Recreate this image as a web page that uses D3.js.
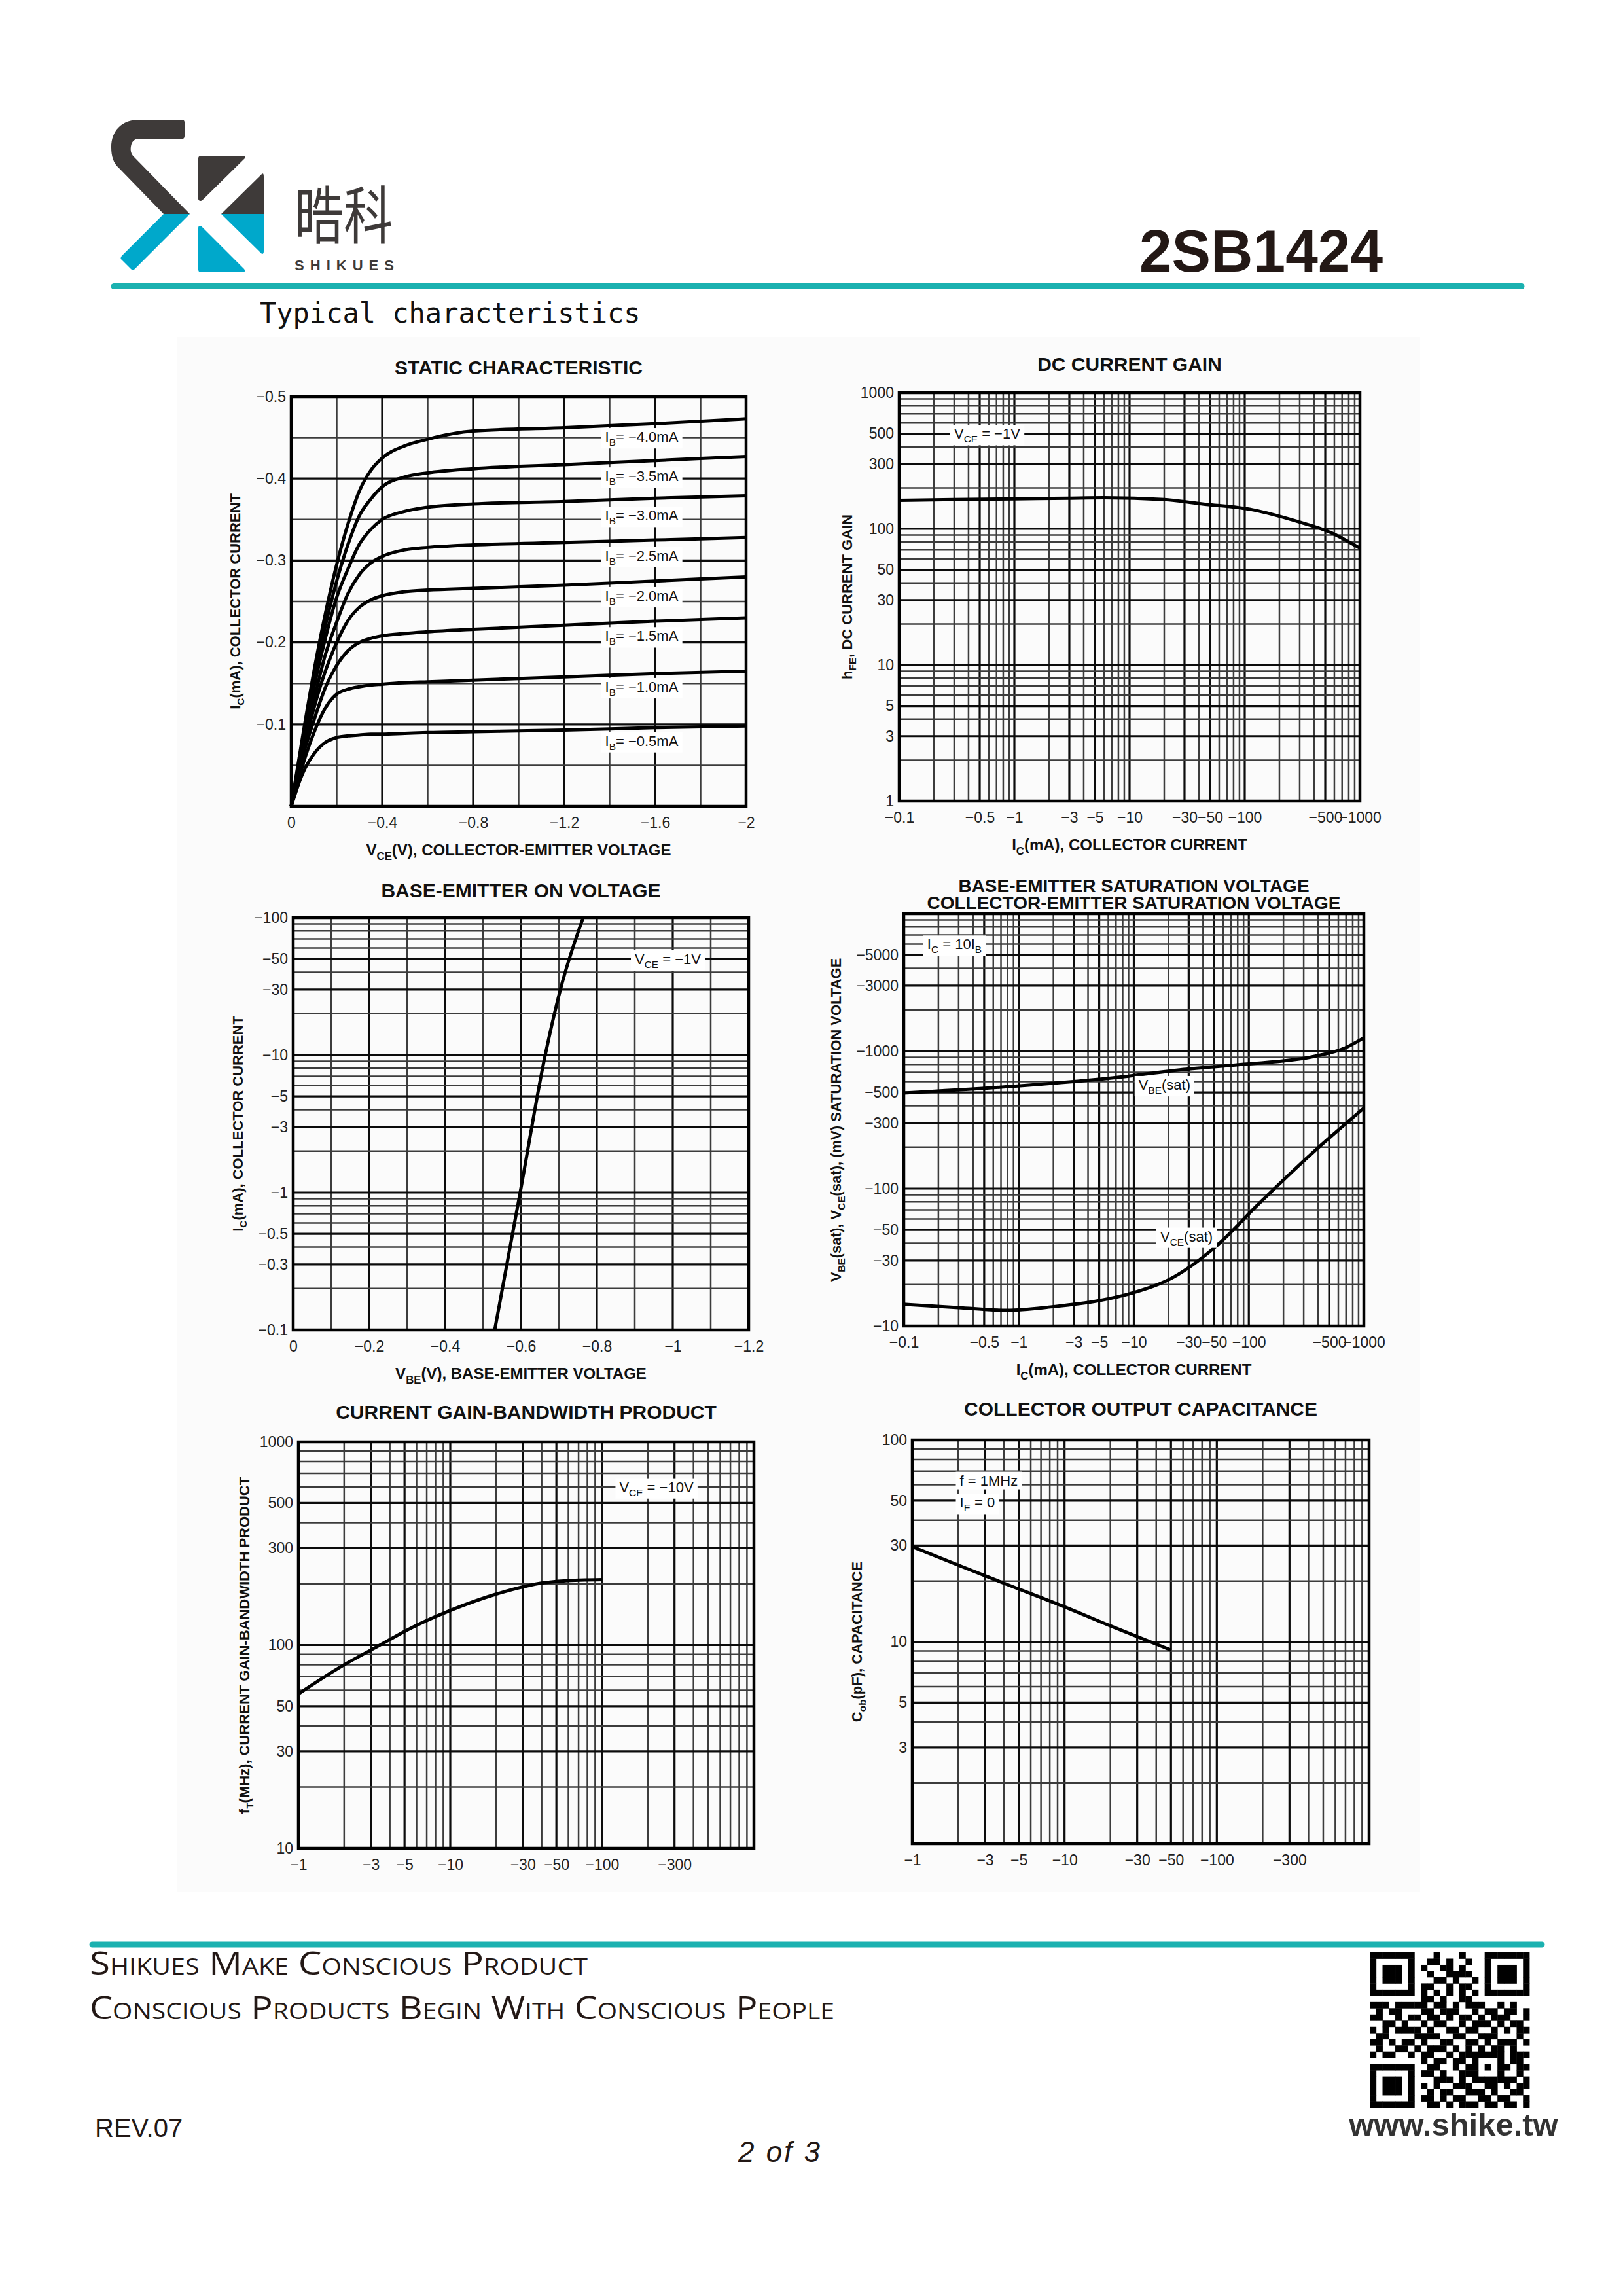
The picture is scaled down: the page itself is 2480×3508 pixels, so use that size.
<!DOCTYPE html>
<html>
<head>
<meta charset="utf-8">
<script src="https://cdn.jsdelivr.net/npm/d3@7"></script>
<style>
  body { margin: 0; background: #fff; }
  svg { display: block; }
</style>
</head>
<body>
<svg id="page" width="2480" height="3508"></svg>
<script>
// ---------- data ----------

// static characteristic: Vce (V) vs Ic, one curve per base current
const staticVce = [0, -0.05, -0.1, -0.15, -0.2, -0.25, -0.3, -0.35, -0.4, -0.5, -0.6, -0.8, -1.2, -1.6, -2.0];
const ic_ib40 = [0, -0.085, -0.165, -0.235, -0.295, -0.345, -0.385, -0.41, -0.425, -0.44, -0.448, -0.458, -0.462, -0.467, -0.473];
const ic_ib35 = [0, -0.08, -0.155, -0.22, -0.275, -0.32, -0.355, -0.375, -0.39, -0.402, -0.407, -0.412, -0.417, -0.422, -0.427];
const ic_ib30 = [0, -0.075, -0.145, -0.205, -0.255, -0.29, -0.32, -0.338, -0.35, -0.36, -0.365, -0.369, -0.372, -0.376, -0.379];
const ic_ib25 = [0, -0.07, -0.13, -0.185, -0.225, -0.26, -0.283, -0.297, -0.305, -0.313, -0.316, -0.319, -0.322, -0.325, -0.328];
const ic_ib20 = [0, -0.065, -0.12, -0.165, -0.2, -0.227, -0.243, -0.252, -0.257, -0.262, -0.264, -0.266, -0.27, -0.275, -0.28];
const ic_ib15 = [0, -0.06, -0.105, -0.145, -0.172, -0.19, -0.2, -0.205, -0.208, -0.211, -0.213, -0.216, -0.221, -0.226, -0.23];
const ic_ib10 = [0, -0.05, -0.09, -0.12, -0.137, -0.143, -0.146, -0.148, -0.149, -0.151, -0.152, -0.154, -0.158, -0.162, -0.165];
const ic_ib05 = [0, -0.04, -0.064, -0.078, -0.084, -0.086, -0.087, -0.088, -0.088, -0.089, -0.09, -0.091, -0.093, -0.096, -0.098];
const ibNames = ["−4.0mA", "−3.5mA", "−3.0mA", "−2.5mA", "−2.0mA", "−1.5mA", "−1.0mA", "−0.5mA"];
const ibLabelIc = [-0.451, -0.403, -0.355, -0.306, -0.257, -0.208, -0.146, -0.080];
const staticXTicks = [0, -0.4, -0.8, -1.2, -1.6, -2];
const staticYTicks = [-0.5, -0.4, -0.3, -0.2, -0.1];

// DC current gain (|Ic| mA, hFE), Vce = -1V
const gainIc = [0.1, 0.3, 1, 3, 6, 20, 44, 117, 290, 525, 1000];
const gainHfe = [162, 164, 166, 168, 169, 164, 152, 138, 113, 96, 72];
const gainXTicks = [0.1, 0.5, 1, 3, 5, 10, 30, 50, 100, 500, 1000];
const gainYTicks = [1000, 500, 300, 100, 50, 30, 10, 5, 3, 1];

// base-emitter on voltage (Vbe V, |Ic| mA)
const beVbe = [-0.531, -0.598, -0.664, -0.704, -0.764];
const beIc = [0.1, 1, 10, 30, 100];
const beXTicks = [0, -0.2, -0.4, -0.6, -0.8, -1, -1.2];
const beYTicks = [100, 50, 30, 10, 5, 3, 1, 0.5, 0.3, 0.1];

// saturation voltages (|Ic| mA, |V| mV), Ic = 10 Ib
const vbeSatIc = [0.1, 0.9, 8.8, 27, 84, 378, 690, 1000];
const vbeSat = [496, 555, 656, 735, 798, 918, 1057, 1250];
const vceSatIc = [0.1, 0.3, 0.79, 1.95, 4.8, 10, 22, 50, 123, 353, 1000];
const vceSat = [14.4, 13.6, 13, 13.8, 15.2, 17.5, 22.6, 37, 78, 180, 385];
const satYTicks = [5000, 3000, 1000, 500, 300, 100, 50, 30, 10];

// current gain-bandwidth product (|Ic| mA, fT MHz), Vce = -10V
const ftIc = [1, 2, 3.2, 5.6, 10, 20, 42, 56, 100];
const ftMHz = [57.5, 80, 97, 122, 148, 178, 203, 207, 210];
const ftXTicks = [1, 3, 5, 10, 30, 50, 100, 300];
const ftYTicks = [1000, 500, 300, 100, 50, 30, 10];

// collector output capacitance (|Vcb| V, Cob pF)
const cobVcb = [1, 2, 4, 10, 20, 50];
const cobPf = [29.6, 24.0, 19.5, 14.9, 12.0, 9.1];
const cobXTicks = [1, 3, 5, 10, 30, 50, 100, 300];
const cobYTicks = [100, 50, 30, 10, 5, 3];

// ---------- page ----------
const SANS = "'Liberation Sans', Arial, Helvetica, sans-serif";
const svg = d3.select("#page");
svg.append("rect").attr("width", 2480).attr("height", 3508).attr("fill", "#fff");
svg.append("rect").attr("x", 270).attr("y", 515).attr("width", 1900).attr("height", 2375).attr("fill", "#fbfbfb");

// text with subscripts: parts are strings or [subscript]
function richText(g, x, y, parts, fs, attrs) {
  const t = g.append("text").attr("x", x).attr("y", y).attr("font-size", fs).attr("font-family", SANS);
  Object.entries(attrs || {}).forEach(([k, v]) => t.attr(k, v));
  let down = false;
  parts.forEach(p => {
    const sub = Array.isArray(p);
    const s = t.append("tspan").text(sub ? p[0] : p);
    if (sub) { s.attr("font-size", fs * 0.7).attr("dy", fs * 0.28); down = true; }
    else if (down) { s.attr("dy", -fs * 0.28); down = false; }
  });
  return t;
}

// label with white box behind it
function note(g, x, y, parts, fs) {
  const t = richText(g, x, y + fs * 0.35, parts, fs, { fill: "#111" });
  const bb = t.node().getBBox();
  g.insert("rect", () => t.node())
    .attr("x", bb.x - 6).attr("y", bb.y - 1).attr("width", bb.width + 12).attr("height", bb.height + 2)
    .attr("fill", "#fff");
}

const near = (arr, d) => arr.some(t => Math.abs(t - d) <= 1e-9 * Math.max(1, Math.abs(t)));
const negFmt = v => v === 0 ? "0" : "−" + d3.format("~g")(Math.abs(v));

function drawPanel(c) {
  const g = svg.append("g");
  const { x, y } = c;
  const xGrid = x.ticks(c.xCount || 10), yGrid = y.ticks(c.yCount || 10);

  g.selectAll(null).data(xGrid).join("line")
    .attr("x1", d => x(d)).attr("x2", d => x(d)).attr("y1", c.T).attr("y2", c.B)
    .attr("stroke", d => near(c.xTicks, d) ? "#0c0c0c" : "#3c3c3c")
    .attr("stroke-width", d => near(c.xTicks, d) ? 3.2 : 2.5);
  g.selectAll(null).data(yGrid).join("line")
    .attr("y1", d => y(d)).attr("y2", d => y(d)).attr("x1", c.L).attr("x2", c.R)
    .attr("stroke", d => near(c.yTicks, d) ? "#0c0c0c" : "#3c3c3c")
    .attr("stroke-width", d => near(c.yTicks, d) ? 3.2 : 2.5);

  g.append("rect").attr("x", c.L).attr("y", c.T).attr("width", c.R - c.L).attr("height", c.B - c.T)
    .attr("fill", "none").attr("stroke", "#000").attr("stroke-width", 4.5);

  const ax = g.append("g").attr("transform", `translate(0,${c.B})`)
    .call(d3.axisBottom(x).tickValues(c.xTicks).tickSize(0).tickPadding(17).tickFormat(c.fx));
  const ay = g.append("g").attr("transform", `translate(${c.L},0)`)
    .call(d3.axisLeft(y).tickValues(c.yTicks).tickSize(0).tickPadding(8).tickFormat(c.fy));
  [ax, ay].forEach(a => {
    a.select(".domain").remove();
    a.attr("font-size", 23).attr("font-family", SANS);
    a.selectAll("text").attr("fill", "#222");
  });

  const cx = (c.L + c.R) / 2;
  c.title.forEach((line, i) => {
    g.append("text").attr("x", cx).attr("y", c.T - c.titleGap + i * 26)
      .attr("text-anchor", "middle").attr("font-family", SANS).attr("font-weight", "bold")
      .attr("font-size", c.title.length > 1 ? 28 : 30).attr("fill", "#111").text(line);
  });
  if (c.xTitle) {
    richText(g, cx, c.B + 75, c.xTitle, 24, { "text-anchor": "middle", "font-weight": "bold", fill: "#111" });
  }
  const yc = (c.T + c.B) / 2;
  richText(g, 0, 0, c.yTitle, 22, {
    "text-anchor": "middle", "font-weight": "bold", fill: "#111",
    transform: `translate(${c.L - c.yTitleOff},${yc}) rotate(-90)`
  });
  return g;
}

function curve(g, x, y, xs, ys) {
  const line = d3.line().x(d => x(d[0])).y(d => y(d[1])).curve(d3.curveMonotoneX);
  g.append("path").datum(d3.zip(xs, ys)).attr("d", line)
    .attr("fill", "none").attr("stroke", "#000").attr("stroke-width", 5).attr("stroke-linejoin", "round");
}

// ---------- 1. static characteristic ----------
{
  const L = 445, R = 1140, T = 606, B = 1232;
  const x = d3.scaleLinear().domain([0, -2]).range([L, R]);
  const y = d3.scaleLinear().domain([0, -0.5]).range([B, T]);
  const g = drawPanel({ L, R, T, B, x, y, xTicks: staticXTicks, yTicks: staticYTicks, fx: negFmt, fy: negFmt,
    title: ["STATIC CHARACTERISTIC"], titleGap: 34, yTitleOff: 78,
    xTitle: ["V", ["CE"], "(V), COLLECTOR-EMITTER VOLTAGE"], yTitle: ["I", ["C"], "(mA), COLLECTOR CURRENT"] });
  [ic_ib40, ic_ib35, ic_ib30, ic_ib25, ic_ib20, ic_ib15, ic_ib10, ic_ib05].forEach(ic => curve(g, x, y, staticVce, ic));
  ibNames.forEach((n, i) => note(g, x(-1.38), y(ibLabelIc[i]), ["I", ["B"], "= " + n], 22));
}

// ---------- 2. DC current gain ----------
{
  const L = 1374, R = 2078, T = 600, B = 1224;
  const x = d3.scaleLog().domain([0.1, 1000]).range([L, R]);
  const y = d3.scaleLog().domain([1, 1000]).range([B, T]);
  const g = drawPanel({ L, R, T, B, x, y, xTicks: gainXTicks, yTicks: gainYTicks, fx: negFmt, fy: d => String(d),
    title: ["DC CURRENT GAIN"], titleGap: 33, yTitleOff: 72,
    xTitle: ["I", ["C"], "(mA), COLLECTOR CURRENT"], yTitle: ["h", ["FE"], ", DC CURRENT GAIN"] });
  curve(g, x, y, gainIc, gainHfe);
  note(g, x(0.3), y(500), ["V", ["CE"], " = −1V"], 22);
}

// ---------- 3. base-emitter on voltage ----------
{
  const L = 448, R = 1144, T = 1402, B = 2032;
  const x = d3.scaleLinear().domain([0, -1.2]).range([L, R]);
  const y = d3.scaleLog().domain([0.1, 100]).range([B, T]);
  const g = drawPanel({ L, R, T, B, x, y, xCount: 12, xTicks: beXTicks, yTicks: beYTicks, fx: negFmt, fy: negFmt,
    title: ["BASE-EMITTER ON VOLTAGE"], titleGap: 31, yTitleOff: 77,
    xTitle: ["V", ["BE"], "(V), BASE-EMITTER VOLTAGE"], yTitle: ["I", ["C"], "(mA), COLLECTOR CURRENT"] });
  curve(g, x, y, beVbe, beIc);
  note(g, x(-0.9), y(50), ["V", ["CE"], " = −1V"], 22);
}

// ---------- 4. saturation voltages ----------
{
  const L = 1381, R = 2084, T = 1396, B = 2026;
  const x = d3.scaleLog().domain([0.1, 1000]).range([L, R]);
  const y = d3.scaleLog().domain([10, 10000]).range([B, T]);
  const g = drawPanel({ L, R, T, B, x, y, xTicks: gainXTicks, yTicks: satYTicks, fx: negFmt, fy: negFmt,
    title: ["BASE-EMITTER SATURATION VOLTAGE", "COLLECTOR-EMITTER SATURATION VOLTAGE"], titleGap: 33, yTitleOff: 96,
    xTitle: ["I", ["C"], "(mA), COLLECTOR CURRENT"],
    yTitle: ["V", ["BE"], "(sat), V", ["CE"], "(sat), (mV) SATURATION VOLTAGE"] });
  curve(g, x, y, vbeSatIc, vbeSat);
  curve(g, x, y, vceSatIc, vceSat);
  note(g, x(0.16), y(6000), ["I", ["C"], " = 10I", ["B"]], 22);
  note(g, x(11), y(570), ["V", ["BE"], "(sat)"], 22);
  note(g, x(17), y(45), ["V", ["CE"], "(sat)"], 22);
}

// ---------- 5. current gain-bandwidth product ----------
{
  const L = 456, R = 1152, T = 2203, B = 2824;
  const x = d3.scaleLog().domain([1, 1000]).range([L, R]);
  const y = d3.scaleLog().domain([10, 1000]).range([B, T]);
  const g = drawPanel({ L, R, T, B, x, y, xTicks: ftXTicks, yTicks: ftYTicks, fx: negFmt, fy: d => String(d),
    title: ["CURRENT GAIN-BANDWIDTH PRODUCT"], titleGap: 35, yTitleOff: 75,
    xTitle: null, yTitle: ["f", ["T"], "(MHz), CURRENT GAIN-BANDWIDTH PRODUCT"] });
  curve(g, x, y, ftIc, ftMHz);
  note(g, x(130), y(600), ["V", ["CE"], " = −10V"], 22);
}

// ---------- 6. collector output capacitance ----------
{
  const L = 1394, R = 2092, T = 2200, B = 2817;
  const x = d3.scaleLog().domain([1, 1000]).range([L, R]);
  const y = d3.scaleLog().domain([1, 100]).range([B, T]);
  const g = drawPanel({ L, R, T, B, x, y, xTicks: cobXTicks, yTicks: cobYTicks, fx: negFmt, fy: d => String(d),
    title: ["COLLECTOR OUTPUT CAPACITANCE"], titleGap: 37, yTitleOff: 77,
    xTitle: null, yTitle: ["C", ["ob"], "(pF), CAPACITANCE"] });
  curve(g, x, y, cobVcb, cobPf);
  note(g, x(2.05), y(63), ["f = 1MHz"], 22);
  note(g, x(2.05), y(49), ["I", ["E"], " = 0"], 22);
}

// ---------- header ----------
const DARK = "#3e3a39", BLUE = "#00a8cb", TEAL = "#1bb1b0";
const logo = svg.append("g");
logo.append("path").attr("fill", DARK)
  .attr("d", "M278,183 L212,183 C186,183 170,200 170,225 C170,240 174,250 182,257 L250,327 L290,327 L205,240 C200,235 199,230 200,224 C201,216 206,212 212,212 L279,212 C281,212 282,210 282,208 L282,187 C282,185 281,183 278,183 Z");
logo.append("path").attr("fill", BLUE).attr("d", "M250,327 L290,327 L206,411 C204,413 202,413 200,411 L186,397 C184,395 184,394 186,391 Z");
logo.append("path").attr("fill", DARK).attr("d", "M303,242 C303,239 305,238 307,238 L372,238 C375,238 376,240 374,242 L309,306 C307,308 303,307 303,304 Z");
logo.append("path").attr("fill", DARK).attr("d", "M403,270 L403,327 L338,327 L400,266 C402,264 403,266 403,270 Z");
logo.append("path").attr("fill", BLUE).attr("d", "M338,327 L403,327 L403,384 C403,388 401,389 399,387 Z");
logo.append("path").attr("fill", BLUE).attr("d", "M303,348 C303,345 306,344 308,346 L373,411 C375,414 374,416 371,416 L307,416 C305,416 303,415 303,412 Z");
logo.append("text").attr("x", 450).attr("y", 364).attr("font-family", "'Noto Sans CJK SC', 'Noto Sans CJK TC', sans-serif")
  .attr("font-size", 96).attr("fill", DARK).attr("textLength", 150).attr("lengthAdjust", "spacingAndGlyphs").text("晧科");
logo.append("text").attr("x", 450).attr("y", 413).attr("font-family", SANS).attr("font-weight", "bold")
  .attr("font-size", 22).attr("fill", DARK).attr("textLength", 152).attr("lengthAdjust", "spacing").text("SHIKUES");

svg.append("text").attr("x", 1741).attr("y", 415).attr("font-family", SANS).attr("font-weight", "bold")
  .attr("font-size", 90).attr("fill", "#231815").attr("textLength", 372).attr("lengthAdjust", "spacingAndGlyphs").text("2SB1424");
svg.append("line").attr("x1", 174).attr("x2", 2325).attr("y1", 437.5).attr("y2", 437.5)
  .attr("stroke", TEAL).attr("stroke-width", 9).attr("stroke-linecap", "round");
svg.append("text").attr("x", 397).attr("y", 493).attr("font-family", "'DejaVu Sans Mono', 'Liberation Mono', monospace")
  .attr("font-size", 42).attr("fill", "#111").text("Typical characteristics");

// ---------- footer ----------
svg.append("line").attr("x1", 141).attr("x2", 2356).attr("y1", 2971).attr("y2", 2971)
  .attr("stroke", TEAL).attr("stroke-width", 9).attr("stroke-linecap", "round");
const footLines = ["Shikues Make Conscious Product", "Conscious Products Begin With Conscious People"];
const footY = [3017, 3085], footLen = [761, 1138];
footLines.forEach((s, i) => {
  svg.append("text").attr("x", 137).attr("y", footY[i]).attr("font-family", "'Open Sans', sans-serif")
    .attr("font-variant", "small-caps").attr("font-size", 50).attr("fill", "#231815")
    .attr("textLength", footLen[i]).attr("lengthAdjust", "spacingAndGlyphs").text(s);
});
svg.append("text").attr("x", 145).attr("y", 3265).attr("font-family", "'Liberation Sans Narrow', " + SANS)
  .attr("font-size", 40).attr("fill", "#231815").text("REV.07");
svg.append("text").attr("x", 1192).attr("y", 3303).attr("text-anchor", "middle").attr("font-family", SANS)
  .attr("font-style", "italic").attr("font-size", 44).attr("letter-spacing", 3).attr("fill", "#231815").text("2 of 3");
svg.append("text").attr("x", 2221).attr("y", 3263).attr("text-anchor", "middle").attr("font-family", SANS)
  .attr("font-weight", "bold").attr("font-size", 49).attr("fill", "#333").text("www.shike.tw");

// QR code modules
const qrRows = [
  "1111111000100010001111111",
  "1000001001101001001000001",
  "1011101010011010001011101",
  "1011101001001111001011101",
  "1011101000110100101011101",
  "1000001011001011001000001",
  "1111111010101010101111111",
  "0000000011010011000000000",
  "1110111110110101110010100",
  "0101100011011100101101101",
  "1100101101101011010111001",
  "0011010010110010111010110",
  "1010111101001101100101011",
  "0110000111100110011100010",
  "1101011010011001101011101",
  "0100110101110101010110100",
  "1011001011001011111110111",
  "0000000010110110100010110",
  "1111111001100101101011011",
  "1000001011010011100010010",
  "1011101000111010111111101",
  "1011101010100111001101011",
  "1011101001011001110100110",
  "1000001011010110011011001",
  "1111111001101011101101101"
];
const qrX = 2093, qrY = 2983, qrW = 244 / 25, qrH = 237 / 25;
const qr = svg.append("g").attr("fill", "#000");
qrRows.forEach((row, r) => {
  row.split("").forEach((b, col) => {
    if (b === "1") qr.append("rect").attr("x", qrX + col * qrW).attr("y", qrY + r * qrH)
      .attr("width", qrW + 0.4).attr("height", qrH + 0.4);
  });
});
</script>
</body>
</html>
